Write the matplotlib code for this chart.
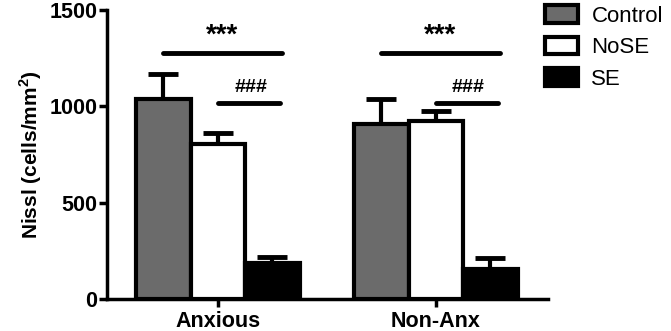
import numpy as np
import matplotlib
matplotlib.use('Agg')
import matplotlib.pyplot as plt
from matplotlib.patches import Patch

plt.rcParams['font.family'] = ['Liberation Sans', 'DejaVu Sans']
plt.rcParams['mathtext.fontset'] = 'custom'
plt.rcParams['mathtext.bf'] = 'Liberation Sans:bold'
plt.rcParams['mathtext.rm'] = 'Liberation Sans:bold'

# data
groups = ['Anxious', 'Non-Anx']
series = ['Control', 'NoSE', 'SE']
means = {'Control': [1038, 908], 'NoSE': [804, 924], 'SE': [187, 156]}
sems = {'Control': [130, 130], 'NoSE': [57, 52], 'SE': [31, 57]}
colors = {'Control': '#6b6b6b', 'NoSE': 'white', 'SE': 'black'}
star_y = [1277, 1277]
hash_y = [1017, 1017]
yticks = [0, 500, 1000, 1500]

fig = plt.figure(figsize=(6.71, 3.31), dpi=100)
ax = fig.add_axes([0.1595, 0.0967, 0.657, 0.873])

x = np.arange(len(groups))
w = 0.25
for i, s in enumerate(series):
	xs = x + (i - 1) * w
	ax.bar(xs, means[s], width=w, color=colors[s], edgecolor='black', linewidth=3, zorder=2)
	ax.errorbar(xs, means[s], yerr=[np.zeros(len(groups)), sems[s]], fmt='none',
		ecolor='black', elinewidth=3, capsize=10.5, capthick=3.5, zorder=1)

# significance bars
for g in range(len(groups)):
	ax.plot([x[g] - 0.25, x[g] + 0.295], [star_y[g], star_y[g]], color='black', linewidth=3.5, solid_capstyle='round')
	ax.text(x[g] + 0.02, star_y[g] + 25, '***', ha='center', va='bottom', fontsize=20, fontweight='bold')
	ax.plot([x[g] + 0.0, x[g] + 0.285], [hash_y[g], hash_y[g]], color='black', linewidth=3.5, solid_capstyle='round')
	ax.text(x[g] + 0.15, hash_y[g] + 35, '###', ha='center', va='bottom', fontsize=14, fontweight='bold')

ax.set_xlim(-0.509, 1.514)
ax.set_ylim(0, 1500)
ax.set_yticks(yticks)
ax.set_yticklabels([str(t) for t in yticks], fontsize=15.5, fontweight='bold')
ax.set_xticks(x)
ax.set_xticklabels(groups, fontsize=15.5, fontweight='bold')
ax.set_ylabel(r'Nissl (cells/mm$^\mathbf{2}$)', fontsize=15, fontweight='bold', labelpad=4)

for sp in ['top', 'right']:
	ax.spines[sp].set_visible(False)
for sp in ['left', 'bottom']:
	ax.spines[sp].set_linewidth(2.5)
ax.tick_params(axis='both', width=2.5, length=6, direction='out')
ax.tick_params(axis='y', pad=1)
ax.tick_params(axis='x', pad=3)

handles = [Patch(facecolor=colors[s], edgecolor='black', linewidth=3, label=s) for s in series]
fig.legend(handles=handles, loc='upper left', bbox_to_anchor=(0.782, 1.045), frameon=False,
	fontsize=16, handlelength=1.5, handleheight=0.85, labelspacing=0.45, handletextpad=0.6)

plt.savefig('out.png', dpi=100)
